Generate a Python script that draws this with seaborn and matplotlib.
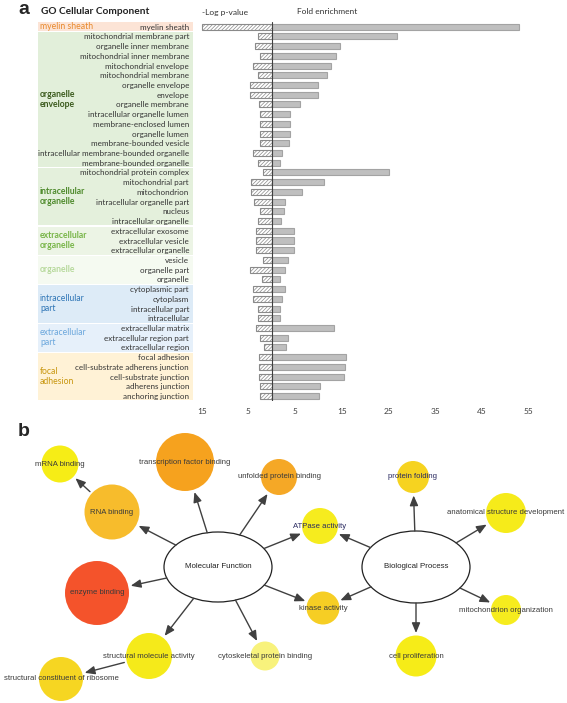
import numpy as np
import pandas as pd
import matplotlib
matplotlib.use('Agg')
import matplotlib.pyplot as plt
import seaborn as sns
from matplotlib.patches import Ellipse, FancyArrowPatch

sns.set_theme(style='white')
plt.rcParams['font.family'] = ['Lato', 'DejaVu Sans']
plt.rcParams['hatch.color'] = '#a6a6a6'
plt.rcParams['hatch.linewidth'] = 0.5

# ---- panel a data: GO cellular component
terms = ['myelin sheath', 'mitochondrial membrane part', 'organelle inner membrane',
         'mitochondrial inner membrane', 'mitochondrial envelope', 'mitochondrial membrane',
         'organelle envelope', 'envelope', 'organelle membrane', 'intracellular organelle lumen',
         'membrane-enclosed lumen', 'organelle lumen', 'membrane-bounded vesicle',
         'intracellular membrane-bounded organelle', 'membrane-bounded organelle',
         'mitochondrial protein complex', 'mitochondrial part', 'mitochondrion',
         'intracellular organelle part', 'nucleus', 'intracellular organelle',
         'extracellular exosome', 'extracellular vesicle', 'extracellular organelle',
         'vesicle', 'organelle part', 'organelle',
         'cytoplasmic part', 'cytoplasm', 'intracellular part', 'intracellular',
         'extracellular matrix', 'extracellular region part', 'extracellular region',
         'focal adhesion', 'cell-substrate adherens junction', 'cell-substrate junction',
         'adherens junction', 'anchoring junction']
neg_log_p = [15.0, 3.0, 3.5, 2.5, 3.9, 2.9, 4.7, 4.7, 2.8, 2.4, 2.4, 2.4, 2.4, 3.9, 2.9,
             1.8, 4.4, 4.4, 3.8, 2.6, 3.0, 3.4, 3.4, 3.4, 1.9, 4.6, 2.1,
             4.1, 3.9, 3.0, 2.9, 3.3, 2.4, 1.7, 2.8, 2.8, 2.8, 2.5, 2.4]
fold_enrichment = [53.0, 26.8, 14.7, 13.8, 12.6, 11.9, 9.9, 9.9, 6.1, 3.9, 3.9, 3.9, 3.8, 2.1, 1.8,
                   25.2, 11.2, 6.5, 2.9, 2.6, 1.9, 4.7, 4.7, 4.7, 3.5, 2.9, 1.7,
                   2.8, 2.1, 1.7, 1.7, 13.4, 3.5, 3.0, 15.9, 15.6, 15.4, 10.4, 10.1]
group_labels = ['myelin sheath', 'organelle\nenvelope', 'intracellular\norganelle',
                'extracellular\norganelle', 'organelle', 'intracellular\npart',
                'extracellular\npart', 'focal\nadhesion']
group_sizes = [1, 14, 6, 3, 3, 4, 3, 5]
group_bg = ['#fce4d6', '#e2efda', '#e4f0dc', '#ecf4e5', '#f5faf1', '#ddebf7', '#e6f0fa', '#fff2d6']
group_fg = ['#e8892c', '#3b5a1d', '#4e8a2c', '#78b548', '#b7d99c', '#2e75b6', '#6ba7dc', '#c8960e']
group_bold = [False, True, True, True, True, False, False, False]
xticks = [-15, -5, 5, 15, 25, 35, 45, 55]

# ---- panel b data: GO network
nodes = ['mRNA binding', 'transcription factor binding', 'unfolded protein binding', 'RNA binding',
         'enzyme binding', 'structural molecule activity', 'structural constituent of ribosome',
         'cytoskeletal protein binding', 'protein folding', 'anatomical structure development',
         'ATPase activity', 'kinase activity', 'mitochondrion organization', 'cell proliferation']
node_radius = [18.5, 29, 18, 27.5, 32, 23, 22, 14.5, 16, 20, 18, 16.5, 15, 20.5]
node_colors = ['#f6ed16', '#f6a21e', '#f5a826', '#f7bc2c', '#f4532b', '#f5ea1a', '#f6d622',
               '#f8f27c', '#f6d320', '#f6eb1a', '#f6ec1e', '#f6ce24', '#f6ec1e', '#f6ec18']
hubs = ['Molecular Function', 'Biological Process']
edges = [('Molecular Function', 'RNA binding'), ('Molecular Function', 'transcription factor binding'),
         ('Molecular Function', 'unfolded protein binding'), ('Molecular Function', 'ATPase activity'),
         ('Molecular Function', 'kinase activity'), ('Molecular Function', 'cytoskeletal protein binding'),
         ('Molecular Function', 'structural molecule activity'), ('Molecular Function', 'enzyme binding'),
         ('RNA binding', 'mRNA binding'),
         ('structural molecule activity', 'structural constituent of ribosome'),
         ('Biological Process', 'protein folding'), ('Biological Process', 'anatomical structure development'),
         ('Biological Process', 'ATPase activity'), ('Biological Process', 'kinase activity'),
         ('Biological Process', 'mitochondrion organization'), ('Biological Process', 'cell proliferation')]

# layout of the network (pixel positions)
layout = {'mRNA binding': (60, 464), 'transcription factor binding': (185, 462),
          'unfolded protein binding': (279, 477), 'RNA binding': (112, 512),
          'enzyme binding': (97, 593), 'structural molecule activity': (149, 656),
          'structural constituent of ribosome': (61, 679), 'cytoskeletal protein binding': (265, 656),
          'protein folding': (413, 477), 'anatomical structure development': (506, 513),
          'ATPase activity': (320, 526), 'kinase activity': (323, 608),
          'mitochondrion organization': (506, 610), 'cell proliferation': (416, 656),
          'Molecular Function': (218, 567), 'Biological Process': (416, 567)}
hub_axes = {'Molecular Function': (54, 35), 'Biological Process': (54, 36)}

W, H = 567, 703
fig = plt.figure(figsize=(W / 100, H / 100), dpi=100)


def px_axes(x0, y0, x1, y1):
    return fig.add_axes([x0 / W, 1 - y1 / H, (x1 - x0) / W, (y1 - y0) / H])


# ---- panel a
zero_px, unit_px = 271.7, 4.67
xmin, xmax = -16.5, 58
top, bottom = 21.8, 400.9
n = len(terms)

ax_lab = px_axes(38, top, 193, bottom)
ax_lab.set_xlim(0, 1)
ax_lab.set_ylim(n - 0.5, -0.5)
ax_lab.axis('off')
start = 0
for lab, size, bg, fg, bold in zip(group_labels, group_sizes, group_bg, group_fg, group_bold):
    ax_lab.axhspan(start - 0.5 + 0.06, start + size - 0.5 - 0.06, color=bg, lw=0)
    ax_lab.text(0.013, start + (size - 1) / 2, lab, ha='left', va='center', color=fg,
                fontsize=6.2, linespacing=1.15, fontweight='bold' if bold else 'normal')
    start += size

ax = px_axes(zero_px + xmin * unit_px, top, zero_px + xmax * unit_px, bottom)
ax.set_facecolor('none')
df = pd.DataFrame({'term': terms, 'neg': [-v for v in neg_log_p], 'fold': fold_enrichment})
sns.barplot(data=df, x='neg', y='term', orient='h', color='white', edgecolor='#8a8a8a',
            linewidth=0.8, width=0.62, saturation=1, errorbar=None, ax=ax)
for p in ax.patches:
    p.set_hatch('/////////')
sns.barplot(data=df, x='fold', y='term', orient='h', color='#bfbfbf', edgecolor='#a3a3a3',
            linewidth=0.8, width=0.62, saturation=1, errorbar=None, ax=ax)
ax.axvline(0, color='#404040', lw=0.8)
ax.set_xlim(xmin, xmax)
ax.set_ylim(n - 0.5, -0.5)
ax.set_xticks(xticks)
ax.set_xticklabels([str(abs(t)) for t in xticks])
ax.tick_params(axis='x', length=0, pad=5, labelsize=6, labelcolor='#404040')
ax.tick_params(axis='y', length=0, pad=4, labelsize=5.8, labelcolor='#333333')
ax.set_xlabel('')
ax.set_ylabel('')
for s in ax.spines.values():
    s.set_visible(False)

fig.text(18 / W, 1 - 9 / H, 'a', fontsize=14, fontweight='bold', va='center', ha='left',
         family='Liberation Sans')
fig.text(41 / W, 1 - 11.5 / H, 'GO Cellular Component', fontsize=7.3, fontweight='bold',
         va='center', ha='left', color='#222222')
fig.text(202 / W, 1 - 12 / H, '-Log p-value', fontsize=6, va='center', ha='left', color='#333333')
fig.text(297 / W, 1 - 12 / H, 'Fold enrichment', fontsize=6, va='center', ha='left', color='#333333')
fig.text(18 / W, 1 - 431 / H, 'b', fontsize=14, fontweight='bold', va='center', ha='left',
         family='Liberation Sans')

# ---- panel b
axb = px_axes(0, 440, W, H)

ndf = pd.DataFrame({'name': nodes,
                    'x': [layout[k][0] for k in nodes],
                    'y': [layout[k][1] for k in nodes]})
px_to_pt = 72 / 100
sizes = {k: (2 * r * px_to_pt) ** 2 for k, r in zip(nodes, node_radius)}
sns.scatterplot(data=ndf, x='x', y='y', hue='name', palette=dict(zip(nodes, node_colors)),
                size='name', sizes=sizes, linewidth=0, legend=False, ax=axb, zorder=2, clip_on=False)
axb.set_xlim(0, W)
axb.set_ylim(H, 440)
axb.axis('off')

for h in hubs:
    a, b = hub_axes[h]
    axb.add_patch(Ellipse(layout[h], 2 * a, 2 * b, fc='white', ec='#222222', lw=0.9, zorder=2))
    axb.text(*layout[h], h, ha='center', va='center', fontsize=5.7, color='#222222',
             family='Liberation Sans', zorder=4)

radius = dict(zip(nodes, node_radius))


def edge_point(name, d):
    cx, cy = layout[name]
    if name in hub_axes:
        a, b = hub_axes[name]
        t = 1 / np.sqrt((d[0] / a) ** 2 + (d[1] / b) ** 2)
        return cx + t * d[0], cy + t * d[1]
    u = d / np.hypot(*d)
    return cx + (radius[name] + 2.5) * u[0], cy + (radius[name] + 2.5) * u[1]


for s, t in edges:
    d = np.array(layout[t], float) - np.array(layout[s], float)
    p0 = edge_point(s, d)
    p1 = edge_point(t, -d)
    axb.add_patch(FancyArrowPatch(p0, p1, arrowstyle='-|>,head_length=0.6,head_width=0.25',
                                  mutation_scale=10, color='#404040', lw=1.0,
                                  shrinkA=0, shrinkB=0, zorder=3))

for k in nodes:
    col = '#2a2a60' if k in ('ATPase activity', 'protein folding') else '#3a3a3a'
    axb.text(*layout[k], k, ha='center', va='center', fontsize=5.6, color=col,
             family='Liberation Sans', zorder=4)

fig.savefig('out.png', dpi=100)
